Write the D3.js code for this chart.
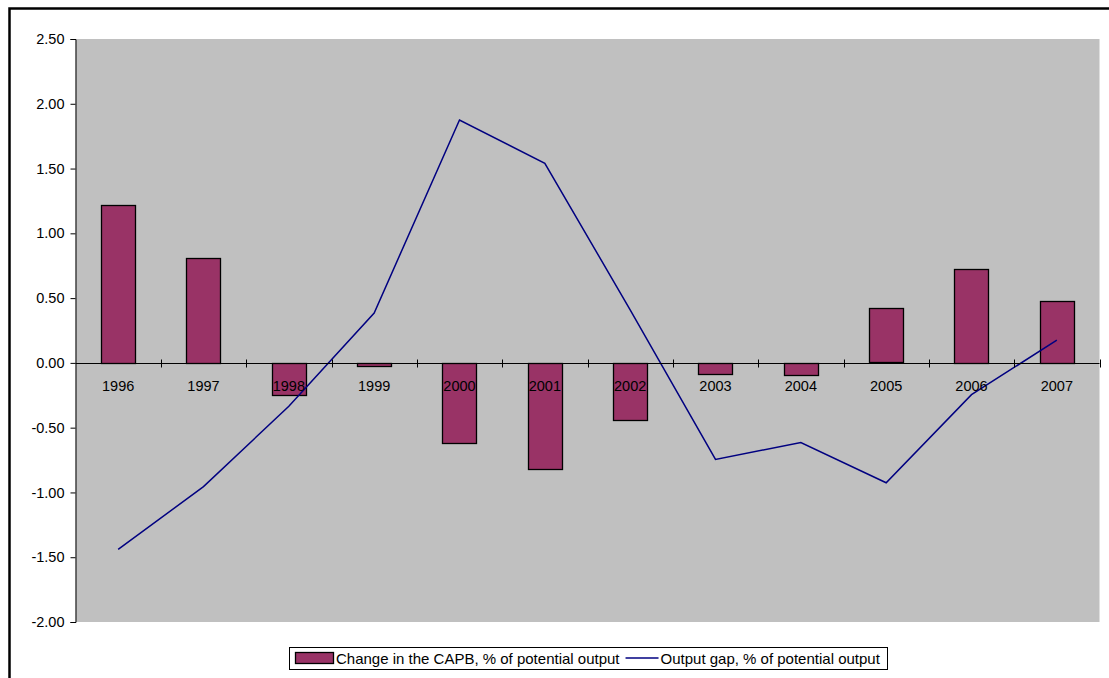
<!DOCTYPE html>
<html lang="en">
<head>
<meta charset="UTF-8">
<title>CAPB vs output gap</title>
<style>
  body { margin: 0; background: #fff; }
  svg { display: block; font-family: "Liberation Sans", Arial, sans-serif; }
  .tick text { font-size: 14.5px; fill: #000; }
</style>
</head>
<body>
<div id="chart"></div>
<script src="https://d3js.org/d3.v7.min.js"></script>
<script>
var years = ["1996","1997","1998","1999","2000","2001","2002","2003","2004","2005","2006","2007"];
var capbChange = [1.22, 0.81, -0.25, -0.025, -0.615, -0.815, -0.44, -0.087, -0.095, 0.42, 0.725, 0.475];
var outputGap = [-1.44, -0.955, -0.335, 0.385, 1.875, 1.54, 0.41, -0.745, -0.615, -0.925, -0.245, 0.175];
var yTicks = [2.5, 2.0, 1.5, 1.0, 0.5, 0, -0.5, -1.0, -1.5, -2.0];
var legendLabels = ["Change in the CAPB, % of potential output", "Output gap, % of potential output"];

var W = 1109, H = 678;
var plot = {left: 75.5, right: 1099.5, top: 39, bottom: 622};

var svg = d3.select("#chart").append("svg")
  .attr("width", W).attr("height", H);

// outer chart frame (runs off the right and bottom)
svg.append("rect")
  .attr("x", 9.5).attr("y", 8.5)
  .attr("width", W + 20).attr("height", H + 20)
  .attr("fill", "#fff").attr("stroke", "#000").attr("stroke-width", 2.5);

// plot area
svg.append("rect")
  .attr("x", plot.left).attr("y", plot.top)
  .attr("width", plot.right - plot.left).attr("height", plot.bottom - plot.top)
  .attr("fill", "#c0c0c0");

var x = d3.scaleBand().domain(years).range([plot.left, plot.right]).paddingInner(0).paddingOuter(0);
var y = d3.scaleLinear().domain([-2, 2.5]).range([plot.bottom, plot.top]);

var barW = x.bandwidth() / 2.5;

// bars
svg.append("g").selectAll("rect")
  .data(capbChange)
  .join("rect")
  .attr("x", function(d, i){ return Math.round(x(years[i]) + (x.bandwidth() - barW) / 2) + 0.5; })
  .attr("y", function(d){ return Math.round(y(Math.max(0, d))) + 0.5; })
  .attr("width", Math.round(barW))
  .attr("height", function(d){ return Math.max(1, Math.round(Math.abs(y(d) - y(0)))); })
  .attr("fill", "#993366")
  .attr("stroke", "#000")
  .attr("stroke-width", 1.3);

// y axis (plain hyphen for negatives, like the original)
var fmt = d3.format(".2f");
var yAxis = d3.axisLeft(y).tickValues(yTicks).tickSize(5).tickPadding(6)
  .tickFormat(function(d){ return fmt(d).replace("\u2212", "-"); });
var yg = svg.append("g").attr("transform", "translate(" + plot.left + ",0)").call(yAxis);
yg.select(".domain").attr("stroke", "#000");
yg.selectAll(".tick line").attr("stroke", "#000");

// category axis on the zero line, ticks crossing the line
var y0 = Math.round(y(0)) + 0.5;
var xg = svg.append("g");
xg.append("line")
  .attr("x1", plot.left).attr("x2", plot.right)
  .attr("y1", y0).attr("y2", y0)
  .attr("stroke", "#000");
var bounds = years.map(function(d){ return x(d); }).concat([plot.right]);
xg.selectAll("line.tk")
  .data(bounds.slice(1))
  .join("line").attr("class", "tk")
  .attr("x1", function(d){ return Math.round(d) + 0.5; })
  .attr("x2", function(d){ return Math.round(d) + 0.5; })
  .attr("y1", y0 - 4).attr("y2", y0 + 4)
  .attr("stroke", "#000");

// output gap line
var line = d3.line()
  .x(function(d, i){ return x(years[i]) + x.bandwidth() / 2; })
  .y(function(d){ return y(d); });
svg.append("path")
  .attr("d", line(outputGap))
  .attr("fill", "none")
  .attr("stroke", "#000080")
  .attr("stroke-width", 1.5);

// category labels drawn above everything
xg.raise();
xg.selectAll("text")
  .data(years)
  .join("text")
  .attr("x", function(d){ return x(d) + x.bandwidth() / 2; })
  .attr("y", y0 + 27)
  .attr("text-anchor", "middle")
  .attr("font-size", 14.5)
  .text(function(d){ return d; });

// legend
var lg = svg.append("g");
lg.append("rect")
  .attr("x", 289.5).attr("y", 647.5).attr("width", 598).attr("height", 22)
  .attr("fill", "#fff").attr("stroke", "#000");
lg.append("rect")
  .attr("x", 295.5).attr("y", 652.5).attr("width", 38).attr("height", 11)
  .attr("fill", "#993366").attr("stroke", "#000").attr("stroke-width", 1.3);
var t1 = lg.append("text")
  .attr("x", 336).attr("y", 664)
  .attr("font-size", 15)
  .text(legendLabels[0]);
var t1end = 336 + t1.node().getComputedTextLength();
lg.append("line")
  .attr("x1", t1end + 6).attr("x2", t1end + 39)
  .attr("y1", 658).attr("y2", 658)
  .attr("stroke", "#000080").attr("stroke-width", 1.5);
lg.append("text")
  .attr("x", t1end + 41).attr("y", 664)
  .attr("font-size", 15)
  .text(legendLabels[1]);
</script>
</body>
</html>
